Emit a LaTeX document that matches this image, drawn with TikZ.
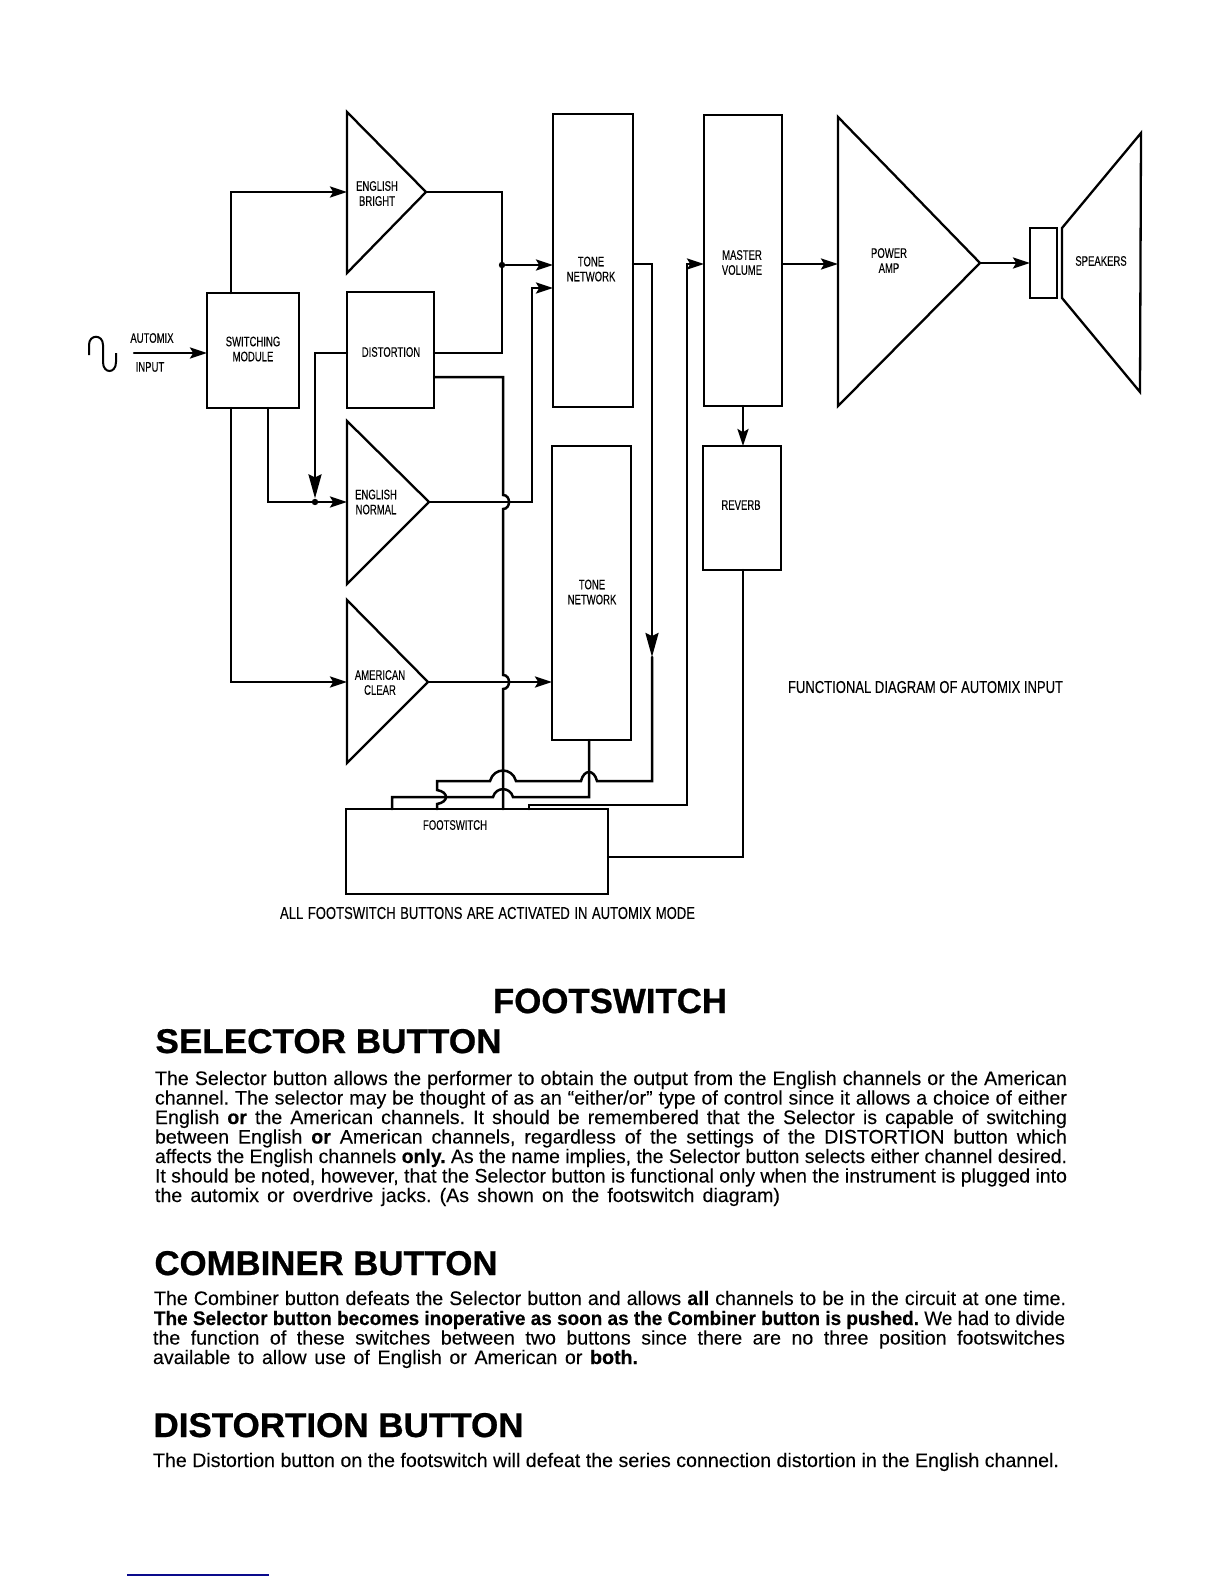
\documentclass[tikz,border=0pt]{standalone}
\usepackage{fontspec}
\usepackage{graphicx}
\setmainfont{Liberation Sans}[UprightFeatures={FakeBold=0.12},BoldFeatures={FakeBold=0.3}]
\newfontfamily\lblfont{Liberation Sans}[FakeStretch=0.69,FakeBold=0.2]
\newfontfamily\capfont{Liberation Sans}[FakeStretch=0.76,FakeBold=0.15]
\newfontfamily\hdfont{Liberation Sans}[BoldFeatures={FakeBold=0.7}]
\usetikzlibrary{arrows.meta,calc}
\hbadness=10000
\hfuzz=20pt
\frenchspacing
\newsavebox\fitbox
\newcommand\fitw[2]{\sbox\fitbox{#2}\ifdim\wd\fitbox>#1\relax\resizebox{#1}{\height}{\usebox\fitbox}\else\hbox to #1{#2}\fi}
\newcounter{tln}
\newcommand\tline[5][]{\stepcounter{tln}\node[txt,name=tl\arabic{tln}] at (#2,#3) {\fitw{\dimexpr #4pt/2\relax}{#1#5}};}
\newcommand\hdline[5]{\stepcounter{tln}\node[txt,name=tl\arabic{tln}] at (#1,#2) {\resizebox{\dimexpr #3pt/2\relax}{#4pt}{\hdfont\bfseries #5}};}
\newcommand\blockn[5]{\node[blk,name=#1,minimum width={(#4-#2)*0.5pt},minimum height={(#5-#3)*0.5pt}] at ({(#2+#4)/2},{(#3+#5)/2}) {};}
\tikzset{
  wire/.style={line width=1.25pt,line cap=round,line join=miter},
  shp/.style={line width=1.15pt,line join=miter},
  blk/.style={draw,line width=1.2pt,inner sep=0pt,outer sep=0pt},
  lbl/.style={font=\lblfont\fontsize{6.9pt}{7.5pt}\selectfont,align=center,inner sep=0pt},
  captxt/.style={font=\capfont\fontsize{8.6pt}{9pt}\selectfont,inner sep=0pt},
  txt/.style={anchor=base west,inner sep=0pt,outer sep=0pt,font=\fontsize{9.8pt}{10pt}\selectfont},
  dotn/.style={circle,fill=black,inner sep=0pt,minimum size=3.2pt},
  arr/.style={-{Stealth[length=8.5pt,width=5.5pt,inset=1.6pt]}},
  bigarr/.style={-{Stealth[length=12pt,width=6.5pt,inset=1.5pt]}},
}
\begin{document}
\begin{tikzpicture}[x=0.5pt,y=-0.5pt]
\useasboundingbox (0,0) rectangle (1224,1584);
\fill[white] (0,0) rectangle (1224,1584);

% blocks
\blockn{sw}{207}{293}{299}{408}
\blockn{dist}{347}{292}{434}{408}
\blockn{toneA}{553}{114}{633}{407}
\blockn{toneB}{552}{446}{631}{740}
\blockn{master}{704}{115}{782}{406}
\blockn{reverb}{703}{446}{781}{570}
\blockn{fs}{346}{809}{608}{894}
\blockn{coil}{1030}{228}{1057}{298}

% triangles and speaker
\coordinate (brA) at (347,112); \coordinate (brB) at (347,273); \coordinate (brO) at (426,192);
\coordinate (enA) at (347,421); \coordinate (enB) at (347,584); \coordinate (enO) at (429,502);
\coordinate (amA) at (347,600); \coordinate (amB) at (347,763); \coordinate (amO) at (428,682);
\coordinate (pwA) at (838,117); \coordinate (pwB) at (838,406); \coordinate (pwO) at (980,263);
\draw[shp] (brA) -- (brO) -- (brB) -- cycle;
\draw[shp] (enA) -- (enO) -- (enB) -- cycle;
\draw[shp] (amA) -- (amO) -- (amB) -- cycle;
\draw[shp] (pwA) -- (pwO) -- (pwB) -- cycle;
\coordinate (cA) at (1062,228); \coordinate (cB) at (1141,133); \coordinate (cC) at (1140,392); \coordinate (cD) at (1062,298);
\draw[shp] (cA) -- (cB) -- (cC) -- (cD) -- cycle;

% labels
\node[lbl] (lBr) at (377,193.5) {ENGLISH\\BRIGHT};
\node[lbl] (lSw) at (253,349) {SWITCHING\\MODULE};
\node[lbl] (lDi) at (391,352) {DISTORTION};
\node[lbl] (lEn) at (376,502) {ENGLISH\\NORMAL};
\node[lbl] (lAm) at (380,682.5) {AMERICAN\\CLEAR};
\node[lbl] (lTa) at (591,269) {TONE\\NETWORK};
\node[lbl] (lTb) at (592,592) {TONE\\NETWORK};
\node[lbl] (lMa) at (742,262.5) {MASTER\\VOLUME};
\node[lbl] (lPw) at (889,260.5) {POWER\\AMP};
\node[lbl] (lSp) at (1101,261) {SPEAKERS};
\node[lbl] (lRv) at (741,505) {REVERB};
\node[lbl] (lAu) at (152,338) {AUTOMIX};
\node[lbl] (lIn) at (150,367) {INPUT};
\node[lbl] (lFs) at (455,825) {FOOTSWITCH};
\node[captxt] (cFn) at (925.5,687) {\fitw{137.5pt}{FUNCTIONAL DIAGRAM OF AUTOMIX INPUT}};
\node[captxt] (cAl) at (487.5,913) {\fitw{207.5pt}{ALL FOOTSWITCH BUTTONS ARE ACTIVATED IN AUTOMIX MODE}};

% source symbol
\coordinate (srcA) at (89,355); \coordinate (srcB) at (116,353);
\coordinate (inS) at (134,353);
\draw[line width=1pt] (srcA) -- (89,345) .. controls (89,334) and (103,334) .. (103,345) -- (103,362) .. controls (103,374) and (116,374) .. (116,362) -- (srcB);
\draw[wire,arr] (inS) -- (sw.west |- inS);

% bus x positions
\coordinate (xA) at (231,0); \coordinate (xB) at (268,0); \coordinate (xC) at (315,0);
\coordinate (xD) at (502,0); \coordinate (xE) at (503,0); \coordinate (xF) at (532,0);
\coordinate (xG) at (652,0); \coordinate (xH) at (589,0); \coordinate (xI) at (437,0);
\coordinate (xJ) at (392,0); \coordinate (xK) at (529,0); \coordinate (xL) at (687,0);
\coordinate (xM) at (743,0);

% switching module outputs
\draw[wire,arr] (xA |- sw.north) -- (xA |- brO) -- (brA |- brO);
\draw[wire,arr] (xA |- sw.south) -- (xA |- amO) -- (amA |- amO);
\coordinate (enI) at (enA |- enO);
\draw[wire,arr] (xB |- sw.south) -- (xB |- enO) -- (enI);
\node[dotn] (dotEn) at (xC |- enO) {};
\coordinate (distL) at (347,353);
\draw[wire,bigarr] (distL) -- (xC |- distL) -- (dotEn.north);

% bright + distortion to tone A
\coordinate (distR) at (434,353);
\coordinate (distR2) at (434,377);
\draw[wire] (brO) -- (xD |- brO) -- (xD |- distR) -- (distR);
\node[dotn] (dotTa) at (502,265) {};
\draw[wire,arr] (dotTa) -- (toneA.west |- dotTa);

% english normal to tone A
\coordinate (tonIn) at (553,288);
\draw[wire,arr] (enO) -- (xF |- enO) -- (xF |- tonIn) -- (tonIn);
% american clear to tone B
\draw[wire,arr] (amO) -- (toneB.west |- amO);

% distortion second output to footswitch, hopping over two wires
\draw[wire] (distR2) -- (xE |- distR2) -- (503,495) .. controls (511,495) and (511,509) .. (503,509) -- (503,675) .. controls (511,675) and (511,689) .. (503,689) -- (xE |- fs.north);

% tone A output to footswitch
\coordinate (taOut) at (633,264);
\coordinate (taArrow) at (652,657);
\draw[wire,bigarr] (taOut) -- (xG |- taOut) -- (taArrow);
\draw[wire] (taArrow) -- (652,781) -- (597,781) .. controls (594,769) and (584,769) .. (581,781) -- (516,781) .. controls (512,767) and (494,767) .. (490,781) -- (437,781) -- (437,790) .. controls (449,792) and (449,802) .. (437,804) -- (xI |- fs.north);

% tone B output to footswitch
\draw[wire] (xH |- toneB.south) -- (589,797) -- (513,797) .. controls (510,786.5) and (496,786.5) .. (493,797) -- (392,797) -- (xJ |- fs.north);

% footswitch to master volume
\coordinate (maIn) at (704,264);
\draw[wire,arr] (xK |- fs.north) -- (529,805) -- (687,805) -- (xL |- maIn) -- (maIn);

% master, reverb, footswitch
\coordinate (maOut) at (782,264);
\draw[wire,arr] (maOut) -- (pwA |- maOut);
\draw[wire,arr] (xM |- master.south) -- (xM |- reverb.north);
\coordinate (fsOut) at (608,857);
\draw[wire] (fsOut) -- (xM |- fsOut) -- (xM |- reverb.south);
\draw[wire,arr] (pwO) -- (coil.west |- pwO);

% headings
\hdline{493}{1013}{234}{12.2}{FOOTSWITCH}
\hdline{155.5}{1053}{346}{12}{SELECTOR BUTTON}
\hdline{154.5}{1275}{343}{12}{COMBINER BUTTON}
\hdline{153.5}{1437}{370}{12}{DISTORTION BUTTON}

% body text
\tline{155}{1085}{912}{The Selector button allows the performer to obtain the output from the English channels or the American}
\tline{155}{1104.5}{912}{channel. The selector may be thought of as an “either/or” type of control since it allows a choice of either}
\tline{155}{1124}{912}{English \textbf{or} the American channels. It should be remembered that the Selector is capable of switching}
\tline{155}{1143.5}{912}{between English \textbf{or} American channels, regardless of the settings of the DISTORTION button which}
\tline{155}{1163}{912}{affects the English channels \textbf{only.} As the name implies, the Selector button selects either channel desired.}
\tline{155}{1182.5}{912}{It should be noted, however, that the Selector button is functional only when the instrument is plugged into}
\tline{155}{1202}{625}{the automix or overdrive jacks. (As shown on the footswitch diagram)}
\tline{154}{1305}{912}{The Combiner button defeats the Selector button and allows \textbf{all} channels to be in the circuit at one time.}
\tline{154}{1325}{911}{\textbf{The Selector button becomes inoperative as soon as the Combiner button is pushed.} We had to divide}
\tline{153}{1344.5}{912}{the function of these switches between two buttons since there are no three position footswitches}
\tline{153}{1364}{485}{available to allow use of English or American or \textbf{both.}}
\tline{153}{1467}{906}{The Distortion button on the footswitch will defeat the series connection distortion in the English channel.}

% stray scan rule at page foot
\coordinate (ruleA) at (127,1575); \coordinate (ruleB) at (269,1575);
\definecolor{rulecol}{RGB}{10,10,140}
\draw[rulecol,line width=0.8pt] (ruleA) -- (ruleB);
\end{tikzpicture}
\end{document}
